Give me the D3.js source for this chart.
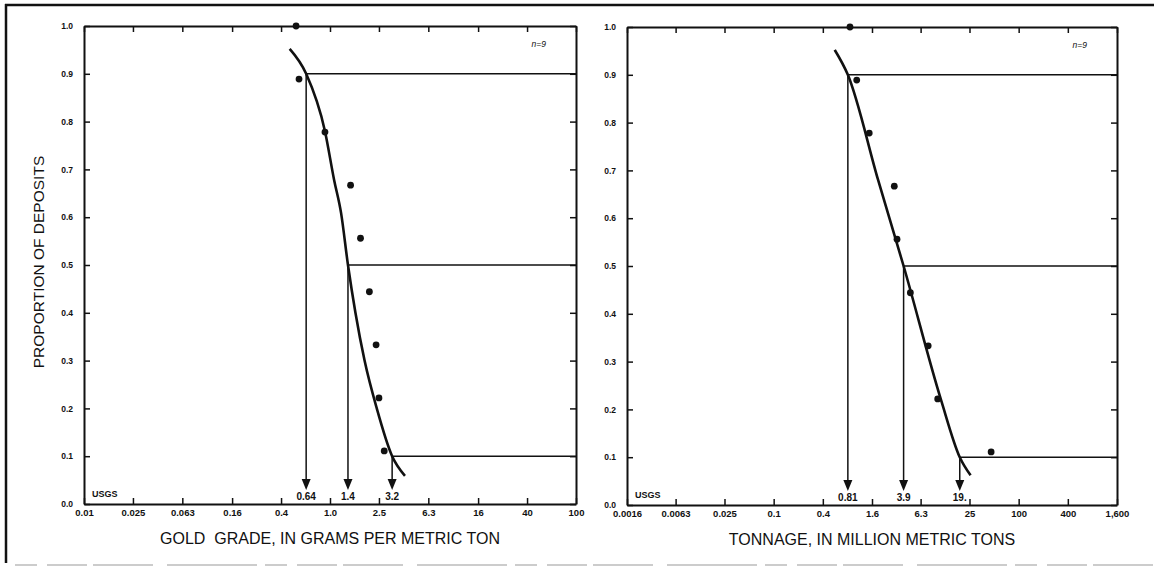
<!DOCTYPE html>
<html>
<head>
<meta charset="utf-8">
<script src="https://cdn.jsdelivr.net/npm/d3@7"></script>
<style>
  body { margin: 0; background: #fff; }
  svg { display: block; font-family: "Liberation Sans", Arial, sans-serif; }
</style>
</head>
<body>
<script>

// proportion of deposits for the 9 deposits (plotting positions)
var proportions = [1.0, 0.889, 0.778, 0.667, 0.556, 0.444, 0.333, 0.222, 0.111];

// gold grade, g/t
var goldGrades = [0.53, 0.56, 0.91, 1.47, 1.77, 2.09, 2.37, 2.5, 2.76];
// tonnage, Mt
var tonnages = [0.86, 1.04, 1.48, 3.0, 3.24, 4.72, 7.8, 10.2, 46];

// fitted curves, points
var goldFitX = [0.47, 0.64, 0.91, 1.08, 1.23, 1.4, 1.61, 1.91, 2.4, 3.2, 4.07];
var goldFitP = [0.952, 0.9, 0.78, 0.678, 0.609, 0.5, 0.40, 0.30, 0.2, 0.1, 0.059];
var tonFitX = [0.56, 0.81, 1.9, 3.9, 11.2, 19, 25.8];
var tonFitP = [0.952, 0.9, 0.68, 0.5, 0.22, 0.1, 0.062];

// 90th / 50th / 10th percentiles
var percentileLevels = [0.9, 0.5, 0.1];
var goldPercentiles = [0.64, 1.4, 3.2];
var goldPercentileLabels = ["0.64", "1.4", "3.2"];
var tonPercentiles = [0.81, 3.9, 19];
var tonPercentileLabels = ["0.81", "3.9", "19."];

// axis ticks
var goldTicks = [0.01, 0.025, 0.063, 0.16, 0.4, 1.0, 2.5, 6.3, 16, 40, 100];
var goldTickLabels = ["0.01", "0.025", "0.063", "0.16", "0.4", "1.0", "2.5", "6.3", "16", "40", "100"];
var tonTicks = [0.0016, 0.0063, 0.025, 0.1, 0.4, 1.6, 6.3, 25, 100, 400, 1600];
var tonTickLabels = ["0.0016", "0.0063", "0.025", "0.1", "0.4", "1.6", "6.3", "25", "100", "400", "1,600"];
var yTicks = [0, 0.1, 0.2, 0.3, 0.4, 0.5, 0.6, 0.7, 0.8, 0.9, 1.0];

var W = 1154, H = 567;

var svg = d3.select("body").append("svg")
  .attr("width", W)
  .attr("height", H);

svg.append("rect").attr("width", W).attr("height", H).attr("fill", "#fff");

// scanned page frame
svg.append("line")
  .attr("x1", 5).attr("x2", W).attr("y1", 5).attr("y2", 5)
  .attr("stroke", "#111").attr("stroke-width", 2.5);
svg.append("line")
  .attr("x1", 6).attr("x2", 6).attr("y1", 4).attr("y2", 563)
  .attr("stroke", "#111").attr("stroke-width", 2.5);
svg.append("line")
  .attr("x1", 15).attr("x2", W).attr("y1", 565).attr("y2", 565)
  .attr("stroke", "#999").attr("stroke-width", 1.2)
  .attr("stroke-dasharray", "22,10,40,6,60,14,90,8");

function panel(o) {
  var x = d3.scaleLog().domain(o.domain).range([o.left, o.right]);
  var y = d3.scaleLinear().domain([0, 1]).range([o.bottom, o.top]);

  var g = svg.append("g");

  // axes, ticks inward
  g.append("g")
    .attr("transform", "translate(0," + o.bottom + ")")
    .call(d3.axisBottom(x).tickValues(o.ticks).tickSize(-6).tickSizeOuter(0).tickPadding(5)
      .tickFormat(function(d, i){ return o.tickLabels[i]; }))
    .call(style)
    .selectAll("text").attr("font-size", 9.5).attr("font-weight", "bold");

  g.append("g")
    .attr("transform", "translate(0," + o.top + ")")
    .call(d3.axisTop(x).tickValues(o.ticks).tickSize(-6).tickSizeOuter(0).tickFormat(""))
    .call(style);

  g.append("g")
    .attr("transform", "translate(" + o.left + ",0)")
    .call(d3.axisLeft(y).tickValues(yTicks).tickSize(-6).tickSizeOuter(0).tickPadding(11)
      .tickFormat(d3.format(".1f")))
    .call(style)
    .selectAll("text").attr("font-size", 8.5).attr("font-weight", "bold");

  g.append("g")
    .attr("transform", "translate(" + o.right + ",0)")
    .call(d3.axisRight(y).tickValues(yTicks).tickSize(-6).tickSizeOuter(0).tickFormat(""))
    .call(style);

  function style(sel) {
    sel.select(".domain").attr("stroke", "#111").attr("stroke-width", 2);
    sel.selectAll(".tick line").attr("stroke", "#111").attr("stroke-width", 1.5);
    sel.selectAll("text").attr("fill", "#111").attr("font-family", "'Liberation Sans', Arial, sans-serif");
  }

  // percentile guide lines and arrows
  var tipY = o.bottom - 14;
  percentileLevels.forEach(function(p, i){
    var px = x(o.pct[i]);
    g.append("line")
      .attr("x1", px).attr("x2", o.right)
      .attr("y1", y(p)).attr("y2", y(p))
      .attr("stroke", "#111").attr("stroke-width", 1.5);
    g.append("line")
      .attr("x1", px).attr("x2", px)
      .attr("y1", y(p)).attr("y2", tipY - 6)
      .attr("stroke", "#111").attr("stroke-width", 1.5);
    g.append("path")
      .attr("d", "M" + (px - 4.5) + "," + (tipY - 11) + "L" + (px + 4.5) + "," + (tipY - 11) + "L" + px + "," + tipY + "Z")
      .attr("fill", "#111");
    g.append("text")
      .attr("x", px).attr("y", o.bottom - 4)
      .attr("text-anchor", "middle")
      .attr("font-size", 10).attr("font-weight", "bold").attr("fill", "#111")
      .text(o.pctLabels[i]);
  });

  // fitted curve
  var fit = o.fitX.map(function(v, i){ return [v, o.fitP[i]]; });
  g.append("path")
    .datum(fit)
    .attr("fill", "none")
    .attr("stroke", "#111")
    .attr("stroke-width", 2.6)
    .attr("d", d3.line()
      .x(function(d){ return x(d[0]); })
      .y(function(d){ return y(d[1]); })
      .curve(d3.curveMonotoneX));

  // deposits
  g.selectAll(".dot")
    .data(o.values)
    .enter().append("circle")
    .attr("class", "dot")
    .attr("cx", function(d){ return x(d); })
    .attr("cy", function(d, i){ return y(proportions[i]); })
    .attr("r", 3.4)
    .attr("fill", "#111");

  g.append("text")
    .attr("x", o.right - 30).attr("y", o.top + 21)
    .attr("text-anchor", "end")
    .attr("font-size", 8.5).attr("font-style", "italic").attr("fill", "#111")
    .text("n=9");

  g.append("text")
    .attr("x", o.left + 8).attr("y", o.bottom - 7)
    .attr("font-size", 9).attr("font-weight", "bold").attr("fill", "#111")
    .text("USGS");

  g.append("text")
    .attr("x", (o.left + o.right) / 2).attr("y", o.bottom + 40)
    .attr("text-anchor", "middle")
    .attr("font-size", 16).attr("fill", "#111")
    .text(o.title);
}

panel({
  left: 84, right: 576, top: 26, bottom: 504,
  domain: [0.01, 100], ticks: goldTicks, tickLabels: goldTickLabels,
  values: goldGrades, fitX: goldFitX, fitP: goldFitP,
  pct: goldPercentiles, pctLabels: goldPercentileLabels,
  title: "GOLD\u00a0\u00a0GRADE, IN GRAMS PER METRIC TON"
});

panel({
  left: 627, right: 1117, top: 27, bottom: 505,
  domain: [0.0016, 1600], ticks: tonTicks, tickLabels: tonTickLabels,
  values: tonnages, fitX: tonFitX, fitP: tonFitP,
  pct: tonPercentiles, pctLabels: tonPercentileLabels,
  title: "TONNAGE, IN MILLION METRIC TONS"
});

svg.append("text")
  .attr("transform", "translate(44,262) rotate(-90)")
  .attr("text-anchor", "middle")
  .attr("font-size", 15.5).attr("fill", "#111")
  .text("PROPORTION OF DEPOSITS");

</script>
</body>
</html>
